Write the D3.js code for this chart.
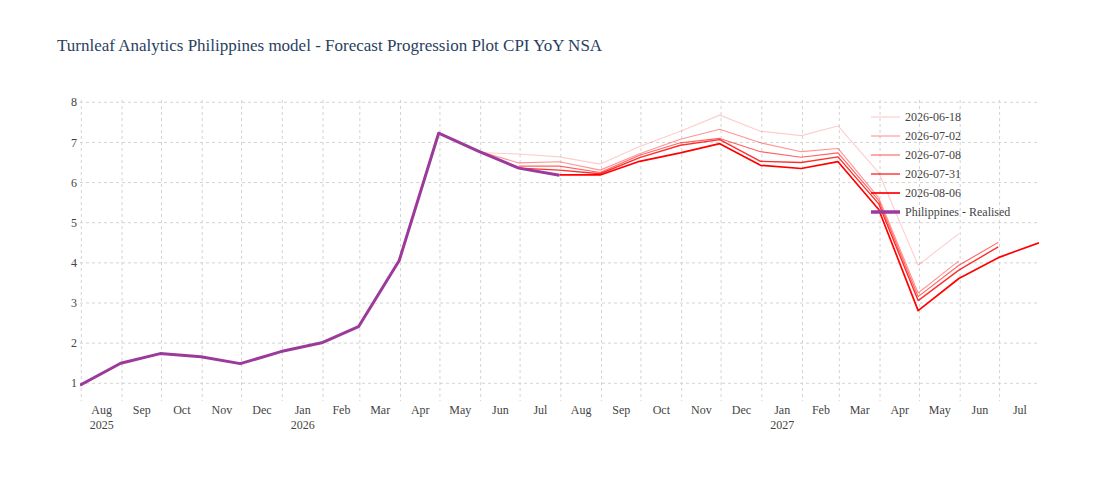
<!DOCTYPE html>
<html>
<head>
<meta charset="utf-8">
<script src="https://cdn.jsdelivr.net/npm/d3@7"></script>
<style>
  html, body { margin: 0; padding: 0; background: #fff; }
  svg { display: block; font-family: "Liberation Serif", "Times New Roman", serif; }
</style>
</head>
<body>
<svg id="chart" width="1119" height="481"></svg>
<script>
// ---- data ----
const monthEnds = [
  "2025-07-31","2025-08-31","2025-09-30","2025-10-31","2025-11-30","2025-12-31",
  "2026-01-31","2026-02-28","2026-03-31","2026-04-30","2026-05-31","2026-06-30",
  "2026-07-31","2026-08-31","2026-09-30","2026-10-31","2026-11-30","2026-12-31",
  "2027-01-31","2027-02-28","2027-03-31","2027-04-30","2027-05-31","2027-06-30",
  "2027-07-31"
];
const realisedValues = [0.95, 1.50, 1.74, 1.66, 1.49, 1.79, 2.01, 2.41, 4.06, 7.23, 6.77, 6.36, 6.18];
const realisedStart = 0;

const forecastNames = ["2026-06-18", "2026-07-02", "2026-07-08", "2026-07-31", "2026-08-06"];
const forecastStarts = [10, 10, 11, 11, 12];
const f20260618 = [6.75, 6.71, 6.64, 6.46, 6.90, 7.28, 7.68, 7.28, 7.17, 7.41, 6.25, 3.94, 4.73];
const f20260702 = [6.78, 6.49, 6.52, 6.31, 6.72, 7.08, 7.33, 6.99, 6.77, 6.85, 5.62, 3.25, 4.05];
const f20260708 = [6.41, 6.41, 6.25, 6.68, 6.99, 7.10, 6.77, 6.63, 6.74, 5.55, 3.16, 3.94, 4.51];
const f20260731 = [6.36, 6.31, 6.22, 6.62, 6.93, 7.07, 6.53, 6.50, 6.64, 5.47, 3.06, 3.82, 4.40];
const f20260806 = [6.19, 6.19, 6.53, 6.74, 6.97, 6.43, 6.35, 6.52, 5.33, 2.81, 3.61, 4.13, 4.50];
const forecastValues = [f20260618, f20260702, f20260708, f20260731, f20260806];

const yTicks = [1, 2, 3, 4, 5, 6, 7, 8];
const titleText = "Turnleaf Analytics Philippines model - Forecast Progression Plot CPI YoY NSA";
const realisedName = "Philippines - Realised";

// ---- styles ----
const forecastColors = ["rgba(255,0,0,0.2)", "rgba(255,0,0,0.42)", "rgba(255,0,0,0.62)", "rgba(255,0,0,0.82)", "rgba(255,0,0,1)"];
const forecastWidths = [1.1, 1.1, 1.1, 1.4, 1.7];
const realisedColor = "#9b3a9b";

// ---- layout ----
const plot = { left: 80, right: 1039, top: 100, bottom: 401 };
const parse = d3.utcParse("%Y-%m-%d");
const dates = monthEnds.map(parse);

const x = d3.scaleUtc().domain([dates[0], dates[dates.length - 1]]).range([plot.left, plot.right]);
const y = d3.scaleLinear().domain([0.559, 8.057]).range([plot.bottom, plot.top]);

const svg = d3.select("#chart");

// title
svg.append("text")
  .attr("x", 57).attr("y", 51)
  .attr("fill", "#2a3f5f")
  .style("font-size", "17px")
  .text(titleText);

const grid = svg.append("g");
grid.selectAll("line.h").data(yTicks).join("line")
  .attr("x1", plot.left).attr("x2", plot.right)
  .attr("y1", d => y(d)).attr("y2", d => y(d))
  .attr("stroke", "#d3d3d3").attr("stroke-width", 1)
  .attr("stroke-dasharray", "3,3");

const monthStarts = d3.utcMonth.range(d3.utcMonth.ceil(x.domain()[0]), x.domain()[1]);
grid.selectAll("line.v").data(monthStarts).join("line")
  .attr("x1", d => x(d)).attr("x2", d => x(d))
  .attr("y1", plot.top).attr("y2", plot.bottom)
  .attr("stroke", "#d3d3d3").attr("stroke-width", 1)
  .attr("stroke-dasharray", "3,3");

// y tick labels
svg.append("g").selectAll("text").data(yTicks).join("text")
  .attr("x", 77).attr("y", d => y(d))
  .attr("dy", "0.35em")
  .attr("text-anchor", "end")
  .attr("fill", "#444")
  .style("font-size", "12px")
  .text(d => d);

// x tick labels (period mode: centred in month)
const fmtMon = d3.utcFormat("%b");
const periodStarts = monthStarts.filter(d => {
  const mid = new Date((d.getTime() + d3.utcMonth.offset(d, 1).getTime()) / 2);
  return mid <= x.domain()[1];
});
const xl = svg.append("g");
periodStarts.forEach((d, i) => {
  const mid = new Date((d.getTime() + d3.utcMonth.offset(d, 1).getTime()) / 2);
  const px = x(mid);
  xl.append("text").attr("x", px).attr("y", 414)
    .attr("text-anchor", "middle").attr("fill", "#444")
    .style("font-size", "12px").text(fmtMon(d));
  if (i === 0 || d.getUTCMonth() === 0) {
    xl.append("text").attr("x", px).attr("y", 429)
      .attr("text-anchor", "middle").attr("fill", "#444")
      .style("font-size", "12px").text(d.getUTCFullYear());
  }
});

// lines
const line = d3.line().x(d => x(d.date)).y(d => y(d.value));
svg.append("clipPath").attr("id", "clip").append("rect")
  .attr("x", plot.left).attr("y", plot.top)
  .attr("width", plot.right - plot.left).attr("height", plot.bottom - plot.top);
const lines = svg.append("g").attr("clip-path", "url(#clip)");

forecastValues.forEach((vals, k) => {
  const pts = vals.map((v, i) => ({ date: dates[forecastStarts[k] + i], value: v }));
  lines.append("path").datum(pts)
    .attr("d", line)
    .attr("fill", "none")
    .attr("stroke", forecastColors[k])
    .attr("stroke-width", forecastWidths[k])
    .attr("stroke-linejoin", "round");
});
const realPts = realisedValues.map((v, i) => ({ date: dates[realisedStart + i], value: v }));
lines.append("path").datum(realPts)
  .attr("d", line)
  .attr("fill", "none")
  .attr("stroke", realisedColor)
  .attr("stroke-width", 3)
  .attr("stroke-linejoin", "round");

// legend
const legend = svg.append("g").attr("transform", "translate(871,117)");
const legendItems = forecastNames.map((n, k) => ({ name: n, color: forecastColors[k], width: forecastWidths[k] }))
  .concat([{ name: realisedName, color: realisedColor, width: 3.5 }]);
legendItems.forEach((it, i) => {
  const g = legend.append("g").attr("transform", `translate(0,${i * 19})`);
  g.append("line").attr("x1", 0).attr("x2", 29).attr("y1", 0).attr("y2", 0)
    .attr("stroke", it.color).attr("stroke-width", it.width);
  g.append("text").attr("x", 34).attr("y", 0).attr("dy", "0.35em")
    .attr("fill", "#444").style("font-size", "12px").text(it.name);
});
</script>
</body>
</html>
